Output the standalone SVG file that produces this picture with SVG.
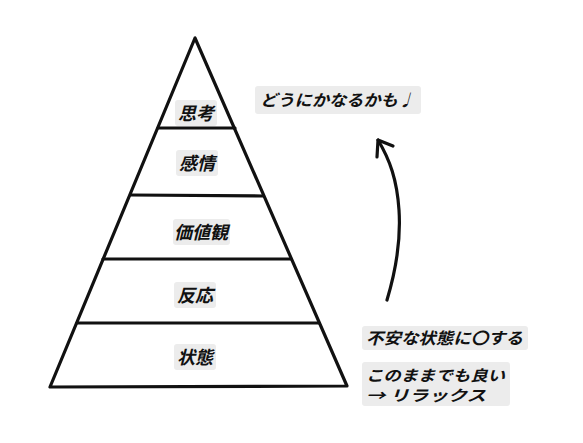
<svg xmlns="http://www.w3.org/2000/svg" width="583" height="443" viewBox="0 0 583 443">
<style>
.ln{stroke:#111;stroke-width:3.2;fill:none;stroke-linecap:round;stroke-linejoin:round}
.bg{fill:#ececec}
.t{font-family:"Noto Sans CJK JP","Noto Sans",sans-serif;font-weight:bold;font-style:italic;font-size:16px;fill:#111}
.p{font-size:18px;text-anchor:middle}
.s{font-size:15px}
</style>
<rect width="583" height="443" fill="#fff"/>
<g id="pyramid">
<polygon class="ln" points="195,38 50,387 347,386"/>
</g>
<g id="layer-shikou">
<rect class="bg" x="175" y="100" width="42" height="26" rx="3"/>
<text class="t p" x="196" y="120">思考</text>
</g>
<g id="layer-kanjou">
<line class="ln" x1="158" y1="128" x2="235" y2="128"/>
<rect class="bg" x="176" y="150" width="42" height="26" rx="3"/>
<text class="t p" x="197" y="170">感情</text>
</g>
<g id="layer-kachikan">
<line class="ln" x1="131" y1="195" x2="263" y2="196"/>
<rect class="bg" x="173" y="219" width="57" height="26" rx="3"/>
<text class="t p" x="201" y="239">価値観</text>
</g>
<g id="layer-hannou">
<line class="ln" x1="103" y1="259" x2="291" y2="259"/>
<rect class="bg" x="174" y="282" width="42" height="26" rx="3"/>
<text class="t p" x="195" y="302">反応</text>
</g>
<g id="layer-joutai">
<line class="ln" x1="77" y1="323" x2="319" y2="323"/>
<rect class="bg" x="174" y="344" width="42" height="26" rx="3"/>
<text class="t p" x="195" y="364">状態</text>
</g>
<g id="note-top">
<rect class="bg" x="255" y="86" width="166" height="28" rx="3"/>
<text class="t" x="260" y="106" textLength="155" lengthAdjust="spacingAndGlyphs">どうにかなるかも♩</text>
</g>
<g id="note-bottom">
<rect class="bg" x="362" y="326" width="166" height="24" rx="3"/>
<text class="t" x="366" y="344" textLength="157" lengthAdjust="spacingAndGlyphs">不安な状態に〇する</text>
<rect class="bg" x="362" y="362" width="148" height="44" rx="3"/>
<text class="t s" x="366" y="381" textLength="139" lengthAdjust="spacingAndGlyphs">このままでも良い</text>
<text class="t s" x="366" y="401" textLength="120" lengthAdjust="spacingAndGlyphs">→ リラックス</text>
</g>
<g id="connectors">
<path class="ln" d="M387,300 C396,270 401,240 399,210 C397,180 390,160 378,140"/>
<path class="ln" d="M377,157 L378,140 L393,146"/>
</g>
</svg>
